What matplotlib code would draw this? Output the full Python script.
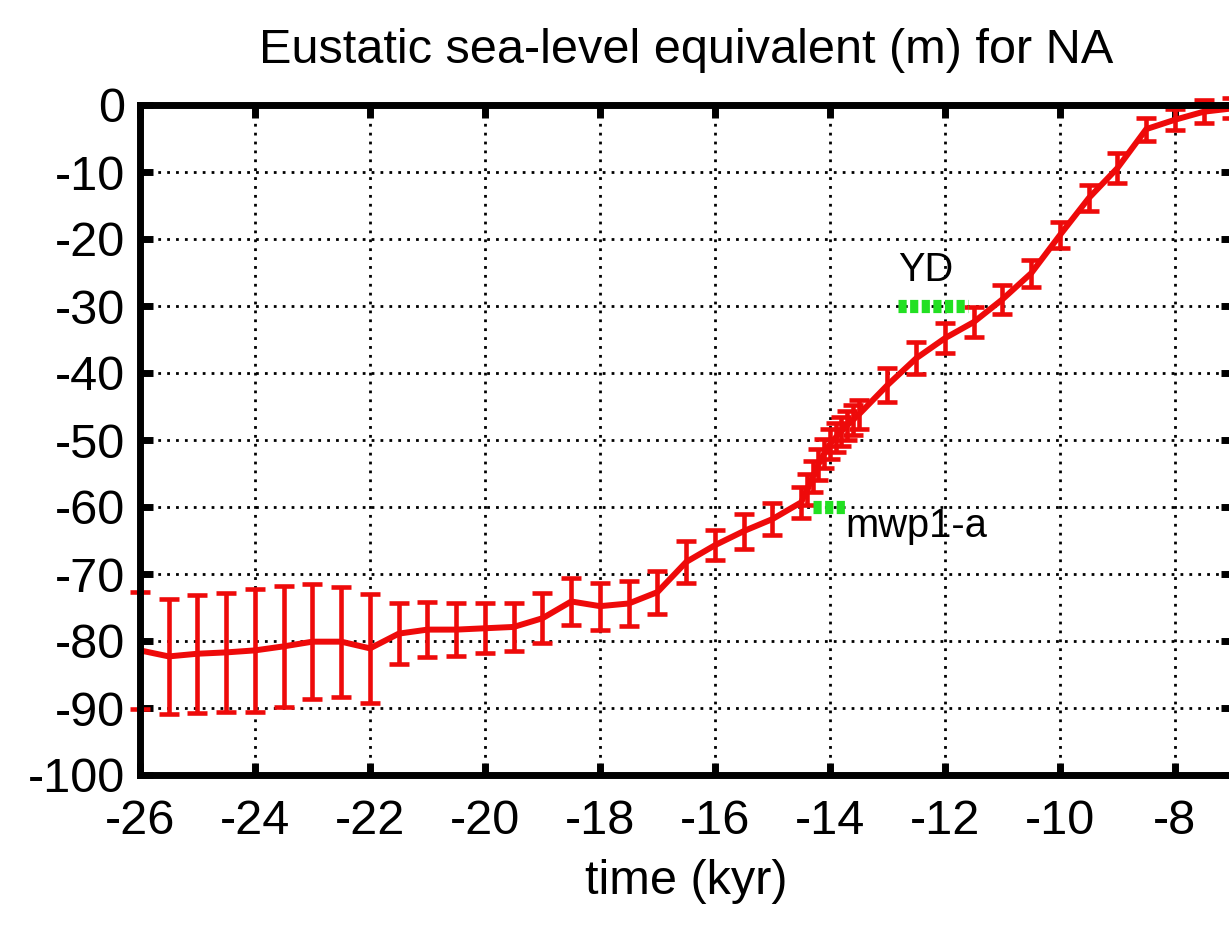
import matplotlib
matplotlib.use("Agg")
import matplotlib.pyplot as plt

plt.rcParams['font.family'] = ['Liberation Sans', 'DejaVu Sans']

# Ice-sheet sea-level contribution (m) with 1-sigma error, time in kyr
time_kyr = [-26.0, -25.5, -25.0, -24.5, -24.0, -23.5, -23.0, -22.5, -22.0,
            -21.5, -21.0, -20.5, -20.0, -19.5, -19.0, -18.5, -18.0, -17.5,
            -17.0, -16.5, -16.0, -15.5, -15.0, -14.5,
            -14.4, -14.3, -14.2, -14.1, -14.0, -13.9, -13.8, -13.7, -13.6, -13.5,
            -13.0, -12.5, -12.0, -11.5, -11.0, -10.5, -10.0, -9.5, -9.0,
            -8.5, -8.0, -7.5, -7.0]
esl_m = [-81.4, -82.3, -81.9, -81.7, -81.4, -80.8, -80.1, -80.1, -81.1,
         -78.9, -78.3, -78.3, -78.1, -77.9, -76.6, -74.1, -74.8, -74.4,
         -72.7, -68.2, -65.7, -63.6, -61.8, -59.3,
         -57.4, -55.5, -53.6, -52.0, -50.6, -49.6, -48.7, -47.8, -47.0, -46.2,
         -41.8, -37.8, -34.8, -32.4, -29.0, -25.1, -19.4, -13.9, -9.4,
         -3.6, -2.2, -1.0, -0.5]
esl_err = [8.7, 8.6, 8.8, 8.9, 9.2, 9.0, 8.6, 8.2, 8.1,
           4.5, 4.1, 4.0, 3.7, 3.6, 3.7, 3.5, 3.5, 3.4,
           3.2, 3.1, 2.2, 2.6, 2.4, 2.3,
           2.3, 2.3, 2.3, 2.2, 2.2, 2.2, 2.2, 2.2, 2.2, 2.2,
           2.5, 2.4, 2.2, 2.2, 2.2, 2.0, 1.9, 1.9, 2.3,
           1.7, 1.6, 1.7, 1.5]

# Event periods: Younger Dryas and meltwater pulse 1A
yd_time = [-12.82, -11.6]
yd_level = [-30, -30]
mwp_time = [-14.3, -13.74]
mwp_level = [-60, -60]

x_ticks = [-26, -24, -22, -20, -18, -16, -14, -12, -10, -8]
y_ticks = [0, -10, -20, -30, -40, -50, -60, -70, -80, -90, -100]

RED = '#ee0a0a'
GREEN = '#22e022'
FS = 35

fig = plt.figure(figsize=(12.29, 9.25), dpi=100)
ax = fig.add_axes([140 / 1229, 150 / 925, 1092.5 / 1229, 670 / 925])

ax.set_xlim(-26, -7)
ax.set_ylim(-100, 0)
ax.set_xticks(x_ticks)
ax.set_yticks(y_ticks)
ax.set_xticklabels([str(t) for t in x_ticks])
ax.set_yticklabels([str(t) for t in y_ticks])

ax.grid(True, color='black', linestyle=(0, (1.0, 2.2)), linewidth=2.0)
ax.set_axisbelow(True)

ax.tick_params(axis='both', direction='in', length=9, width=5,
               top=True, right=True, labelsize=FS, colors='black')
ax.tick_params(axis='x', pad=17)
ax.tick_params(axis='y', pad=11)
for sp in ax.spines.values():
    sp.set_linewidth(5)
    sp.set_zorder(5)

ax.plot(time_kyr, esl_m, color=RED, linewidth=4.3, zorder=3,
        solid_joinstyle='round')
eb = ax.errorbar(time_kyr, esl_m, yerr=esl_err, fmt='none', ecolor=RED,
                 elinewidth=3.3, capsize=7.5, capthick=3.3, zorder=3)
for artist in eb.lines[1]:
    artist.set_clip_on(False)
for coll in eb.lines[2]:
    coll.set_clip_on(False)

ax.plot(yd_time, yd_level, color=GREEN, linewidth=9.5,
        linestyle=(0, (0.62, 0.26)), dash_capstyle='butt', zorder=4)
ax.plot(mwp_time, mwp_level, color=GREEN, linewidth=9.5,
        linestyle=(0, (0.62, 0.26)), dash_capstyle='butt', zorder=4)

ax.text(-12.82, -27.5, 'YD', fontsize=FS * 0.82, ha='left', va='bottom')
ax.text(-13.74, -62.8, 'mwp1-a', fontsize=FS * 0.82, ha='left', va='center')

ax.set_title('Eustatic sea-level equivalent (m) for NA', fontsize=FS, pad=30)
ax.set_xlabel('time (kyr)', fontsize=FS, labelpad=11)
ax.set_position([140 / 1229, 150 / 925, 1092.5 / 1229, 670 / 925])

fig.savefig('out.png', dpi=100)
